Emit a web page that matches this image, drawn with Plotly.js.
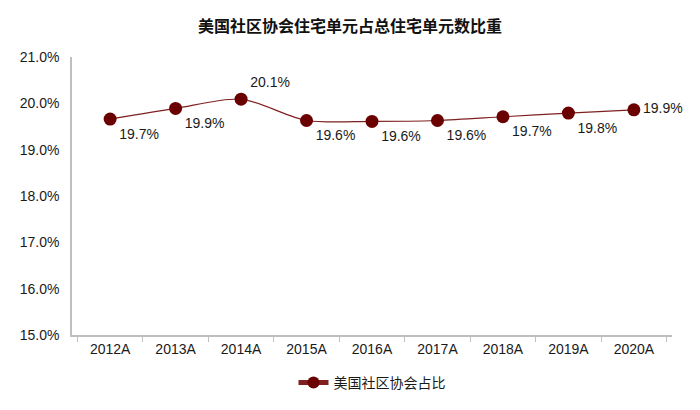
<!DOCTYPE html>
<html>
<head>
<meta charset="utf-8">
<script src="https://cdn.plot.ly/plotly-3.0.1.min.js"></script>
<style>html,body{margin:0;padding:0;background:#fff}#chart{width:700px;height:410px}</style>
</head>
<body>
<div id="chart"></div>
<script>
const years = ['2012A', '2013A', '2014A', '2015A', '2016A', '2017A', '2018A', '2019A', '2020A'];
const shareValues = [19.66, 19.89, 20.09, 19.63, 19.61, 19.63, 19.71, 19.79, 19.86];
const labelPositions = ['bottom right', 'bottom right', 'top right', 'bottom right', 'bottom right',
  'bottom right', 'bottom right', 'bottom right', 'middle right'];
const yTicks = [15, 16, 17, 18, 19, 20, 21];

const font = { family: 'Arial, "Liberation Sans", "Noto Sans CJK SC", sans-serif', size: 14, color: '#1a1a1a' };

const traces = [{
  x: years, y: shareValues, name: '美国社区协会占比',
  type: 'scatter', mode: 'lines+markers+text',
  line: { color: '#7f2020', width: 1.2, shape: 'spline', smoothing: 0.8 },
  marker: { color: '#6b0000', size: 13 },
  text: shareValues.map(v => v.toFixed(1) + '%'),
  textposition: labelPositions,
  textfont: { ...font, size: 14 },
  cliponaxis: false
}];

const layout = {
  width: 700, height: 410,
  paper_bgcolor: 'white', plot_bgcolor: 'white',
  font: font,
  margin: { l: 72, r: 28, t: 57, b: 75 },
  title: { text: '<b>美国社区协会住宅单元占总住宅单元数比重</b>', x: 0.5, xanchor: 'center',
    yref: 'container', y: 0.95, font: { ...font, size: 16, color: '#111' } },
  showlegend: true,
  legend: { orientation: 'h', x: 0.5, xanchor: 'center', yref: 'container', y: 0.066, yanchor: 'middle',
    itemsizing: 'constant', font: { ...font, size: 14 } },
  xaxis: {
    type: 'category', showgrid: false, zeroline: false,
    showline: true, linecolor: '#bfbfbf', linewidth: 1.5,
    ticks: 'outside', tickson: 'boundaries', ticklen: 5, tickcolor: '#bfbfbf',
    tickfont: { ...font, size: 14 }, automargin: false
  },
  yaxis: {
    range: [15, 21], tickvals: yTicks, ticktext: yTicks.map(v => v.toFixed(1) + '%'),
    showgrid: false, zeroline: false, showline: true, linecolor: '#bfbfbf', linewidth: 1.5,
    ticks: '', ticklabelstandoff: 8, tickfont: { ...font, size: 14 }, automargin: false
  }
};

Plotly.newPlot('chart', traces, layout, { displayModeBar: false });
</script>
</body>
</html>
